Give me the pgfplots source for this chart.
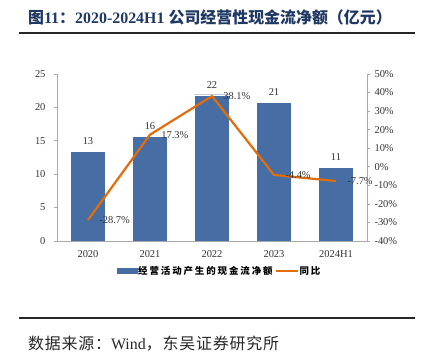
\documentclass[border=0pt]{standalone}
\usepackage{fontspec}
\setmainfont{Liberation Serif}
\newfontfamily\cjk{Noto Sans CJK SC}
\newfontfamily\cjkls[LetterSpace=20]{Noto Sans CJK SC}
\newfontfamily\cjksrc[LetterSpace=5]{Noto Sans CJK SC}
\usepackage{pgfplots}
\pgfplotsset{compat=1.18}
\definecolor{barblue}{RGB}{70,110,165}
\definecolor{lineor}{RGB}{228,108,10}
\definecolor{titleblue}{RGB}{31,56,100}
\definecolor{txtgray}{RGB}{50,50,50}
\definecolor{axgray}{RGB}{170,170,170}
\begin{document}
\begin{tikzpicture}[x=1bp,y=1bp]
\useasboundingbox (0,0) rectangle (421,359);
\node[anchor=west, inner sep=0, text=titleblue, font=\fontsize{16}{19}\selectfont\bfseries] at (28,342) {{\cjk\bfseries 图}11{\cjk\bfseries ：}2020-2024H1 {\cjk\bfseries 公司经营性现金流净额（亿元）}};
\draw[line width=1.5bp, black!85] (19,326) -- (415,326);
\draw[line width=1.5bp, black!85] (19,41) -- (415,41);
\node[anchor=west, inner sep=0, font=\fontsize{16}{19}\selectfont, text=black!85] at (28,15) {{\cjksrc 数据来源：}Wind{\cjksrc ，东吴证券研究所}};

\begin{axis}[
  at={(57bp,118bp)}, anchor=south west,
  scale only axis, width=310bp, height=167bp,
  xmin=-0.5, xmax=4.5, ymin=0, ymax=25,
  xtick={0,...,4}, xticklabels={2020,2021,2022,2023,2024H1},
  ytick={0,5,...,25},
  axis x line*=bottom, axis y line*=left,
  axis line style={-, draw=axgray, line width=0.8bp},
  ybar, bar width=35bp,
  tick align=outside, major tick length=3bp,
  tick style={draw=axgray, line width=0.6bp},
  xtick style={draw=none},
  ticklabel style={font=\fontsize{10.5}{12}\selectfont, text=txtgray},
  xticklabel style={yshift=-3bp},
  yticklabel style={xshift=-5bp},
  /pgf/number format/assume math mode=true,
  nodes near coords, point meta=explicit symbolic,
  every node near coord/.append style={font=\fontsize{10.5}{12}\selectfont, text=txtgray, yshift=3bp},
]
\addplot[fill=barblue, draw=white, line width=0.4bp] coordinates {(0,13.4)[13] (1,15.7)[16] (2,21.9)[22] (3,20.8)[21] (4,11.0)[11]};
\end{axis}

\begin{axis}[
  at={(57bp,118bp)}, anchor=south west,
  scale only axis, width=310bp, height=167bp,
  xmin=-0.5, xmax=4.5, ymin=-40, ymax=50,
  ytick={-40,-30,...,50},
  axis x line=none, axis y line*=right,
  axis line style={-, draw=axgray, line width=0.8bp},
  tick align=outside, major tick length=3bp,
  tick style={draw=axgray, line width=0.6bp},
  ticklabel style={font=\fontsize{10.5}{12}\selectfont, text=txtgray},
  yticklabel style={xshift=1bp},
  /pgf/number format/assume math mode=true,
  yticklabel={\pgfmathprintnumber{\tick}\%},
  legend style={at={(0.523,-0.18)}, anchor=center, draw=none, fill=none, legend columns=2,
    font=\fontsize{9.5}{11}\selectfont, inner sep=0pt,
    /tikz/every even column/.append style={column sep=1bp},
    nodes={inner sep=1bp}},
]
\addlegendimage{legend image code/.code={\fill[barblue] (0bp,-2.5bp) rectangle (20bp,2.5bp);}}
\addlegendentry{\cjkls\bfseries 经营活动产生的现金流净额}
\addlegendimage{legend image code/.code={\draw[lineor, line width=2bp] (0bp,0bp) -- (22bp,0bp);}}
\addlegendentry{\cjkls\bfseries 同比}
\addplot[lineor, line width=2.2bp, mark=none, forget plot,
  nodes near coords, point meta=explicit symbolic,
  every node near coord/.append style={anchor=west, xshift=7bp, yshift=0bp, font=\fontsize{10.5}{12}\selectfont, text=txtgray}]
  coordinates {(0,-28.7)[-28.7\%] (1,17.3)[17.3\%] (2,38.1)[38.1\%] (3,-4.4)[-4.4\%] (4,-7.7)[-7.7\%]};
\end{axis}
\end{tikzpicture}
\end{document}
